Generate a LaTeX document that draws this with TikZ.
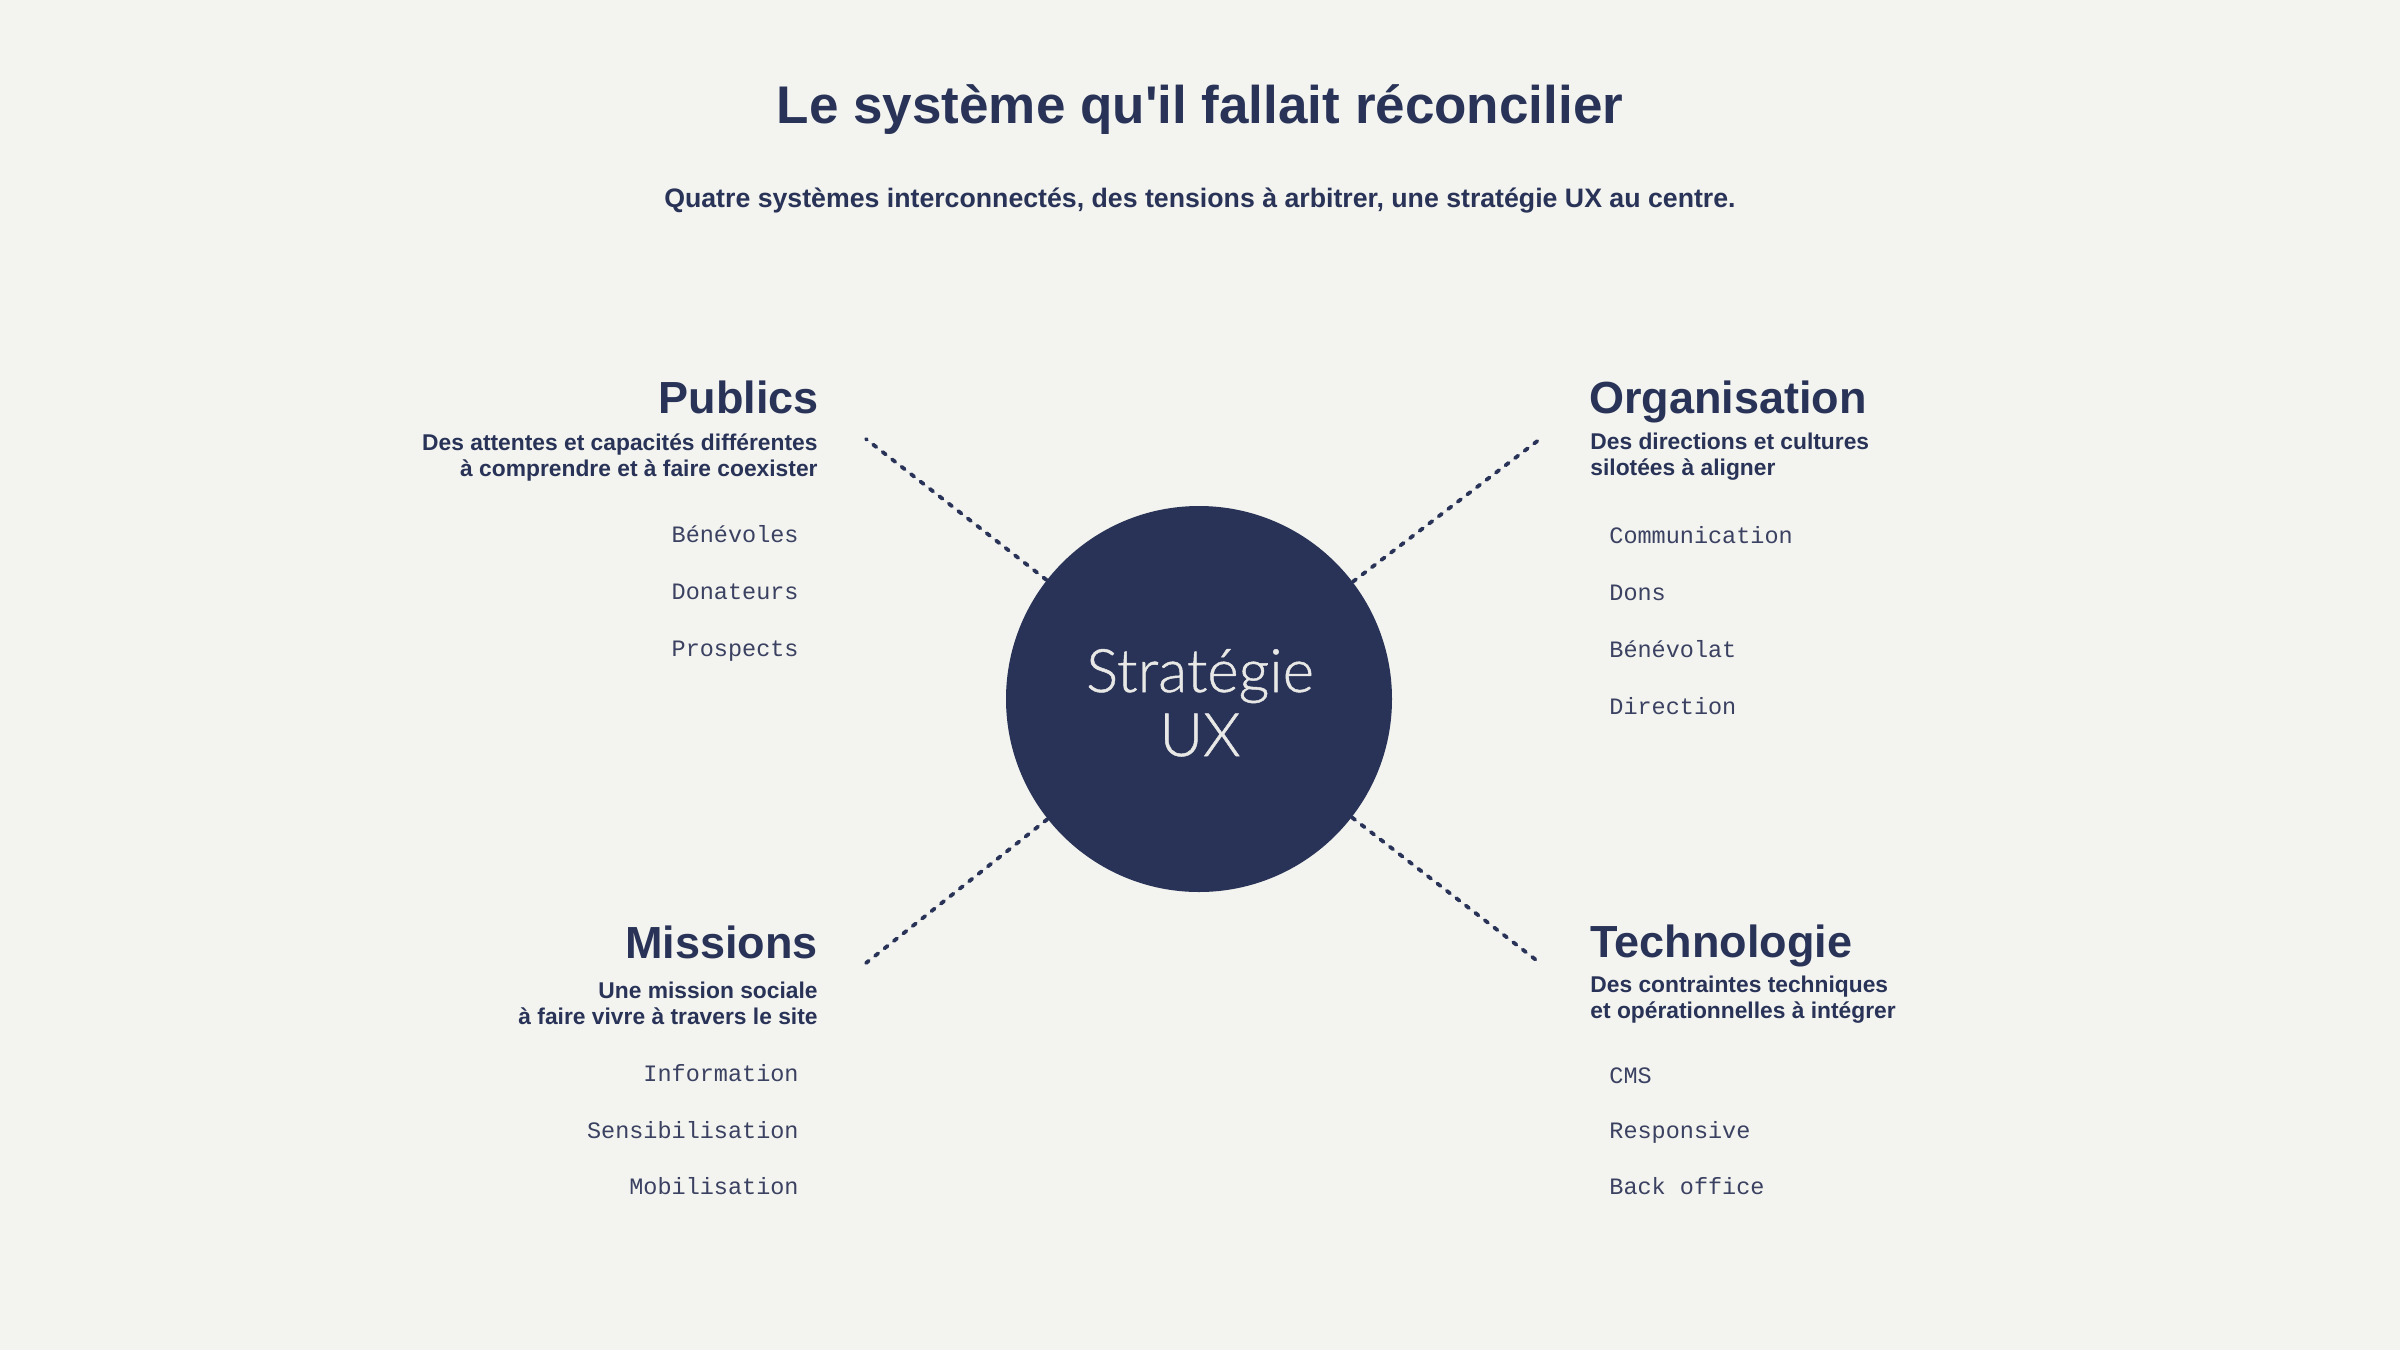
\documentclass[tikz,border=0pt]{standalone}
\usepackage{fontspec}
\setmainfont{Liberation Sans}[Ligatures=TeXOff]
\newfontfamily\itemfont{Liberation Mono}
\newfontfamily\lightfont{Lato Light}[FakeBold=0.8]
\definecolor{bg}{HTML}{F3F3EF}
\definecolor{navy}{HTML}{283357}
\definecolor{itemc}{HTML}{3A4161}
\definecolor{hubtext}{HTML}{E8E8E6}
\tikzset{
  titletxt/.style={font=\bfseries\fontsize{26.5}{30}\selectfont, text=navy, inner sep=0, anchor=base},
  subtxt/.style={font=\bfseries\fontsize{13.35}{16}\selectfont, text=navy, inner sep=0, anchor=base},
  headtxt/.style={font=\bfseries\fontsize{22.5}{26}\selectfont, text=navy, inner sep=0},
  desctxt/.style={font=\bfseries\fontsize{11.4}{13}\selectfont, text=navy, inner sep=0},
  itemtxt/.style={font=\itemfont\fontsize{11.75}{14}\selectfont, text=itemc, inner sep=0},
  hub/.style={circle, fill=navy, minimum size=193pt, inner sep=0},
  hubtxt/.style={text=hubtext, inner sep=0, anchor=base, font=\lightfont\fontsize{30}{34}\selectfont},
  conn/.style={draw=navy, line width=1.9pt, line cap=round, dash pattern=on 2pt off 4pt}
}
\begin{document}
\begin{tikzpicture}[x=0.5pt,y=-0.5pt]
\useasboundingbox[fill=bg] (0,0) rectangle (2400,1350);

\node[titletxt] (title) at (1200,123) {Le système qu'il fallait réconcilier};
\node[subtxt] (subtitle) at (1200,207) {Quatre systèmes interconnectés, des tensions à arbitrer, une stratégie UX au centre.};

% hub
\node[hub] (hub) at (1199,699) {};
\node[hubtxt] (hubl1) at (1200,692) {Stratégie};
\node[hubtxt] (hubl2) at (1200,756) {UX};

% connector ends
\coordinate (tl) at (866,439);
\coordinate (tr) at (1540,439);
\coordinate (bl) at (866,963);
\coordinate (br) at (1540,963);
\draw[conn] (hub) -- (tl);
\draw[conn] (hub) -- (tr);
\draw[conn] (hub) -- (bl);
\draw[conn] (hub) -- (br);

% Publics
\node[headtxt, anchor=base east] (pub) at (819,413) {Publics};
\node[desctxt, anchor=base east] (pubd1) at (818,450) {Des attentes et capacités différentes};
\node[desctxt, anchor=base east] (pubd2) at (818,476) {à comprendre et à faire coexister};
\node[itemtxt, anchor=base east] (pub1) at (799,542) {Bénévoles};
\node[itemtxt, anchor=base east] (pub2) at (799,599) {Donateurs};
\node[itemtxt, anchor=base east] (pub3) at (799,656) {Prospects};

% Organisation
\node[headtxt, anchor=base west] (org) at (1589,413) {Organisation};
\node[desctxt, anchor=base west] (orgd1) at (1590,449) {Des directions et cultures};
\node[desctxt, anchor=base west] (orgd2) at (1590,475) {silotées à aligner};
\node[itemtxt, anchor=base west] (org1) at (1609,543) {Communication};
\node[itemtxt, anchor=base west] (org2) at (1609,600) {Dons};
\node[itemtxt, anchor=base west] (org3) at (1609,657) {Bénévolat};
\node[itemtxt, anchor=base west] (org4) at (1609,714) {Direction};

% Missions
\node[headtxt, anchor=base east] (mis) at (818,958) {Missions};
\node[desctxt, anchor=base east] (misd1) at (818,998) {Une mission sociale};
\node[desctxt, anchor=base east] (misd2) at (818,1024) {à faire vivre à travers le site};
\node[itemtxt, anchor=base east] (mis1) at (799,1081) {Information};
\node[itemtxt, anchor=base east] (mis2) at (799,1138) {Sensibilisation};
\node[itemtxt, anchor=base east] (mis3) at (799,1194) {Mobilisation};

% Technologie
\node[headtxt, anchor=base west] (tec) at (1590,957) {Technologie};
\node[desctxt, anchor=base west] (tecd1) at (1590,992) {Des contraintes techniques};
\node[desctxt, anchor=base west] (tecd2) at (1590,1018) {et opérationnelles à intégrer};
\node[itemtxt, anchor=base west] (tec1) at (1609,1083) {CMS};
\node[itemtxt, anchor=base west] (tec2) at (1609,1138) {Responsive};
\node[itemtxt, anchor=base west] (tec3) at (1609,1194) {Back office};
\end{tikzpicture}
\end{document}
